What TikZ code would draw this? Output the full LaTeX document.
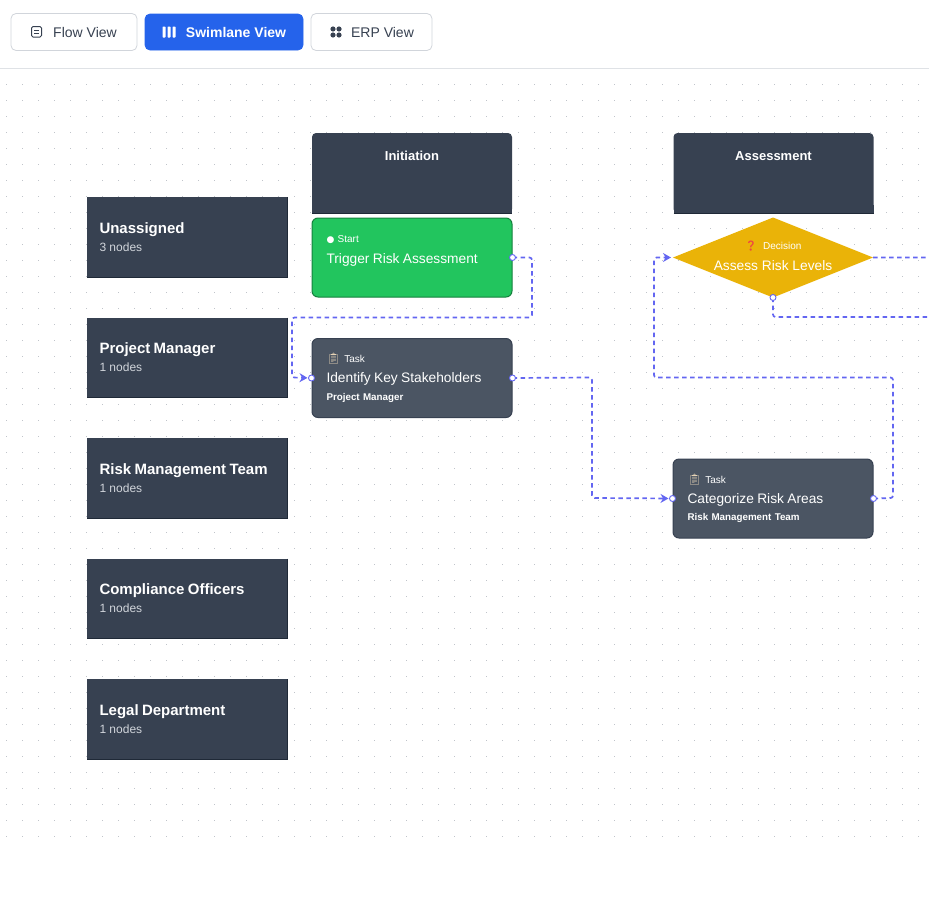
\documentclass[tikz,border=0pt]{standalone}
\usepackage{fontspec}
\setmainfont{Liberation Sans}
\newfontfamily\emojifont{Noto Emoji}
\newfontfamily\symbolfont{DejaVu Sans}
\usetikzlibrary{shapes.geometric,arrows.meta}

\definecolor{panel}{HTML}{374151}
\definecolor{panelEdge}{HTML}{1F2937}
\definecolor{taskFill}{HTML}{4B5563}
\definecolor{startFill}{HTML}{22C55E}
\definecolor{startEdge}{HTML}{15803D}
\definecolor{decisionFill}{HTML}{EAB308}
\definecolor{flowLine}{HTML}{6366F1}
\definecolor{activeBlue}{HTML}{2563EB}
\definecolor{buttonEdge}{HTML}{D1D5DB}
\definecolor{gridDot}{HTML}{C0C4CA}
\definecolor{subText}{HTML}{D1D5DB}
\definecolor{clipFill}{HTML}{E6D3B5}
\definecolor{askRed}{HTML}{EF4444}

\newcommand{\fsize}[1]{\fontsize{#1}{#1}\selectfont}

\begin{document}
\begin{tikzpicture}[x=1pt,y=-1pt,>={Stealth[length=8pt,width=9pt]},node distance=120.5pt,
    button/.style={rounded corners=5pt,draw=buttonEdge,line width=.8pt,fill=white,text=panel,minimum height=37pt,inner sep=0pt,font=\fsize{14}},
    active button/.style={button,draw=activeBlue,fill=activeBlue,text=white,minimum height=36pt,font=\fsize{14}\bfseries},
    lane head/.style={rectangle,fill=panel,text=white,minimum width=200pt,minimum height=80pt,text width=175pt,align=left,inner sep=0pt,outer sep=0pt},
    column head/.style={rounded corners=4pt,fill=panel,text=white,minimum width=200pt,inner sep=0pt,outer sep=0pt,text height=27pt,text depth=53pt,font=\fsize{13}\bfseries},
    flow node/.style={rounded corners=6pt,line width=1pt,text=white,minimum width=200pt,minimum height=79pt,text width=171pt,align=left,inner sep=0pt},
    start node/.style={flow node,draw=startEdge,fill=startFill},
    task node/.style={flow node,draw=panel,fill=taskFill},
    decision node/.style={diamond,fill=decisionFill,text=white,minimum width=200pt,minimum height=80pt,aspect=2.5,inner sep=0pt,outer sep=0pt,align=center},
    port/.style={circle,draw=flowLine,fill=white,line width=.9pt,minimum size=6pt,inner sep=0pt},
    flow/.style={->,draw=flowLine,line width=1.7pt,dash pattern=on 4.5pt off 3.5pt,rounded corners=2.5pt}]

    \useasboundingbox (0,0) rectangle (929,905);

    % dotted canvas
    \foreach \row in {0,...,48}
        \foreach \col in {0,...,57}
            \fill[gridDot] (5.8+16*\col,67.8+16*\row) rectangle +(1,1);
    \draw[draw=buttonEdge!70] (0,68) -- (929,68);

    % toolbar
    \node[button,minimum width=126pt] (flowview) at (74,32) {\hspace{22pt}Flow View};
    \node[active button,minimum width=158pt] (swimview) at (224,32) {\hspace{24pt}Swimlane View};
    \node[button,minimum width=121pt] (erpview) at (371.5,32) {\hspace{22pt}ERP View};

    \draw[panel,line width=1pt,rounded corners=1.5pt] (31.5,26.5) rectangle (41.5,37);
    \draw[panel,line width=1pt] (34,30) -- (39,30) (34,33.5) -- (39,33.5);
    \foreach \bar in {162.5,167.5,172.5}
        \fill[white,rounded corners=.7pt] (\bar,26.5) rectangle +(3,11);
    \foreach \dotx/\doty in {333/29,339/29,333/35,339/35}
        \fill[panel] (\dotx,\doty) circle (2.6);

    % swimlanes
    \node[lane head] (unassigned) at (187,237) {{\fsize{15}\bfseries Unassigned}\\[6pt]{\fsize{12}\color{subText}3 nodes}};
    \node[lane head] (projectmanager) [below of=unassigned] {{\fsize{15}\bfseries Project Manager}\\[6pt]{\fsize{12}\color{subText}1 nodes}};
    \node[lane head] (riskteam) [below of=projectmanager] {{\fsize{15}\bfseries Risk Management Team}\\[6pt]{\fsize{12}\color{subText}1 nodes}};
    \node[lane head] (compliance) [below of=riskteam] {{\fsize{15}\bfseries Compliance Officers}\\[6pt]{\fsize{12}\color{subText}1 nodes}};
    \node[lane head] (legal) [below of=compliance] {{\fsize{15}\bfseries Legal Department}\\[6pt]{\fsize{12}\color{subText}1 nodes}};

    \foreach \lane in {unassigned,projectmanager,riskteam,compliance,legal}
        \draw[panelEdge,line width=1pt] (\lane.north east) -- (\lane.south east) -- (\lane.south west);

    % phases
    \node[column head] (initiation) at (412,173) {Initiation};
    \node[column head] (assessment) [right of=initiation,node distance=361.5pt] {Assessment};
    \foreach \phase in {initiation,assessment} {
        \fill[panel] (\phase.south west) rectangle ([yshift=8pt]\phase.south east);
        \draw[panelEdge,line width=.8pt] (\phase.south west) -- (\phase.south east);
    }

    % process nodes
    \node[start node] (trigger) at (412,257.5) {{\fsize{10}{\symbolfont\fsize{9}●} Start}\\[9pt]{\fsize{13.75}Trigger Risk Assessment}\\[4pt]\mbox{}};
    \node[task node] (stakeholders) [below of=trigger] {{\fsize{10}{\emojifont\color{clipFill}\fsize{11}📋}\hspace{.5pt} Task}\\[8pt]{\fsize{13.75}Identify Key Stakeholders}\\[5.5pt]{\fsize{9.8}\bfseries Project Manager}};
    \node[decision node] (levels) [right of=trigger,node distance=361pt] {{\fsize{10}{\emojifont\color{askRed}\fsize{10}❓}\hspace{3pt} Decision}\\[9pt]{\fsize{13.75}Assess Risk Levels}\\[-9pt]\mbox{}};
    \node[task node] (areas) at (773,498.5) {{\fsize{10}{\emojifont\color{clipFill}\fsize{11}📋}\hspace{.5pt} Task}\\[8pt]{\fsize{13.75}Categorize Risk Areas}\\[5.5pt]{\fsize{9.8}\bfseries Risk Management Team}};

    % connectors
    \coordinate (trigA) at (532,257.5);
    \coordinate (trigB) at (532,317.5);
    \coordinate (trigC) at (292,317.5);
    \coordinate (trigD) at (292,377.5);
    \coordinate (holdA) at (592,377.5);
    \coordinate (holdB) at (592,498);
    \coordinate (areaA) at (893,498);
    \coordinate (areaB) at (893,377.5);
    \coordinate (areaC) at (654,377.5);
    \coordinate (areaD) at (654,257.5);
    \coordinate (levelEast) at (940,257.5);
    \coordinate (levelOff) at (940,270);
    \coordinate (levelA) at (773,317);
    \coordinate (levelSouth) at (940,317);

    \draw[flow,shorten >=4pt] (trigger.east) -- (trigA) -- (trigB) -- (trigC) -- (trigD) -- (stakeholders.west);
    \draw[flow,shorten >=4pt] (stakeholders.east) -- (holdA) -- (holdB) -- (areas.west);
    \draw[flow,shorten >=2pt] (areas.east) -- (areaA) -- (areaB) -- (areaC) -- (areaD) -- (levels.west);
    \draw[flow,-] (levels.east) -- (levelEast) -- (levelOff);
    \draw[flow,-] (levels.south) -- (levelA) -- (levelSouth);

    % handles
    \node[port] (triggerout) at (trigger.east) {};
    \node[port] (holdersin) at (stakeholders.west) {};
    \node[port] (holdersout) at (stakeholders.east) {};
    \node[port] (areasin) at (areas.west) {};
    \node[port] (areasout) at (areas.east) {};
    \node[port] (levelsout) at (levels.south) {};
\end{tikzpicture}
\end{document}
